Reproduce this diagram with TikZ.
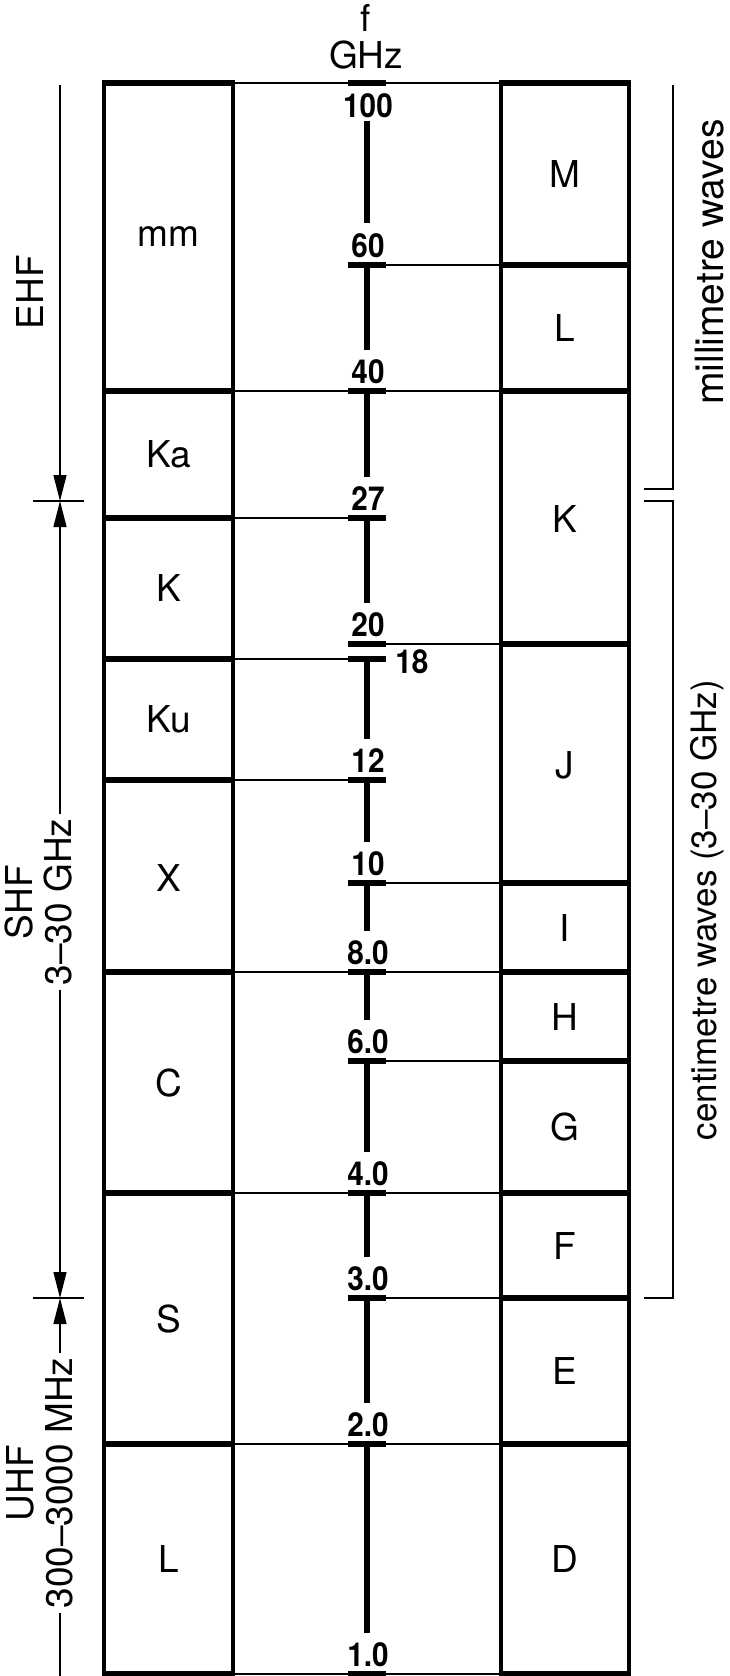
\documentclass[tikz,border=0pt]{standalone}
\usepackage{fontspec}
\setmainfont{TeX Gyre Heros}
\newfontfamily\numfont[FakeStretch=0.9]{TeX Gyre Heros}
\usetikzlibrary{arrows.meta}
\begin{document}
\begin{tikzpicture}[x=0.5pt,y=-0.5pt,
  lbl/.style={font=\fontsize{18.5}{18.5}\selectfont, inner sep=0pt},
  rlbl/.style={font=\fontsize{18.5}{19.5}\selectfont, inner xsep=2pt, inner ysep=0pt, rotate=90, anchor=south, align=center},
  num/.style={font=\numfont\fontsize{16.5}{18}\selectfont\bfseries, inner sep=0pt, anchor=base},
  hair/.style={line width=0.65pt},
  hbar/.style={line width=2.8pt},
  vside/.style={line width=2pt},
  axisline/.style={line width=3.3pt},
  tbar/.style={line width=2.6pt},
  tip/.style={-{Triangle[length=13pt,width=6.5pt]}},
]
\useasboundingbox (0,0) rectangle (729,1676);

% box sides
\draw[vside] (104,83) -- (104,1674);
\draw[vside] (233,83) -- (233,1674);
\draw[vside] (501,83) -- (501,1674);
\draw[vside] (629,83) -- (629,1674);

% left band boundaries
\foreach \y in {83,391,518,659,780,972,1193,1444,1674} {
  \draw[hbar] (102,\y) -- (235,\y);
  \draw[hair] (233,\y) -- (348,\y);
}
% right band boundaries
\foreach \y in {83,265,391,644,883,972,1061,1193,1298,1444,1674} {
  \draw[hbar] (499,\y) -- (631,\y);
  \draw[hair] (386,\y) -- (501,\y);
}
% tick bars
\foreach \y in {83,265,391,518,644,659,780,883,972,1061,1193,1298,1444,1674}
  \draw[tbar] (348,\y) -- (386,\y);
% axis segments
\foreach \a/\b in {121/223,265/350,391/477,518/603,659/739,780/842,883/931,972/1020,1061/1152,1193/1257,1298/1403,1444/1633}
  \draw[axisline] (367,\a) -- (367,\b);

% tick labels
\node[num] (n100) at (368,117) {100};
\foreach \t/\y/\n in {60/265/n60,40/391/n40,27/518/n27,20/644/n20,12/780/n12,10/883/n10,8.0/972/n8,6.0/1061/n6,4.0/1193/n4,3.0/1298/n3,2.0/1444/n2,1.0/1674/n1}
  \node[num] (\n) at (368,\y-8) {\t};
\node[num, anchor=base west] (n18) at (395,673) {18};

% header
\node[lbl, align=center, anchor=south] (head) at (366,70) {f\\GHz};

% left band letters
\foreach \t/\y/\n in {mm/237/lmm,Ka/454.5/lka,K/588.5/lk,Ku/719.5/lku,X/878/lx,C/1082.5/lc,S/1318.5/ls,L/1559/ll}
  \node[lbl] (\n) at (168.5,\y) {\t};
% right band letters
\foreach \t/\y/\n in {M/174/rm,L/328/rl,K/519/rk,J/765/rj,I/927.5/ri,H/1016.5/rh,G/1127/rg,F/1245.5/rf,E/1371/re,D/1559/rd}
  \node[lbl] (\n) at (565,\y) {\t};

% left dimension line
\coordinate (ehftop) at (60,85);
\coordinate (c30) at (60,501);
\coordinate (c3) at (60,1298);
\coordinate (bot) at (60,1676);
\node[rlbl] (ehf) at (44,292) {EHF};
\node[rlbl] (shf) at (73,902) {SHF\\3–30 GHz};
\node[rlbl] (uhf) at (73,1483) {UHF\\300–3000 MHz};
\draw[hair, tip] (ehftop) -- (c30);
\draw[hair, tip] (ehftop |- shf.east) -- (c30);
\draw[hair, tip] (ehftop |- shf.west) -- (c3);
\draw[hair, tip] (ehftop |- uhf.east) -- (c3);
\draw[hair] (ehftop |- uhf.west) -- (bot);
\coordinate (x30a) at (33,501);
\coordinate (x30b) at (84,501);
\coordinate (x3a) at (33,1298);
\coordinate (x3b) at (84,1298);
\draw[hair] (x30a) -- (x30b);
\draw[hair] (x3a) -- (x3b);

% right brackets
\coordinate (mmt) at (673,85);
\coordinate (mmc) at (673,489);
\coordinate (mme) at (644,489);
\coordinate (cms) at (644,501);
\coordinate (cmt) at (673,501);
\coordinate (cmc) at (673,1298);
\coordinate (cme) at (644,1298);
\draw[hair] (mmt) -- (mmc) -- (mme);
\draw[hair] (cms) -- (cmt) -- (cmc) -- (cme);
\node[rlbl, font=\fontsize{19.5}{19.5}\selectfont] (mmw) at (724,262) {millimetre waves};
\node[rlbl, font=\fontsize{17.5}{19.5}\selectfont] (cmw) at (724,910) {centimetre waves (3–30 GHz)};
\end{tikzpicture}
\end{document}
